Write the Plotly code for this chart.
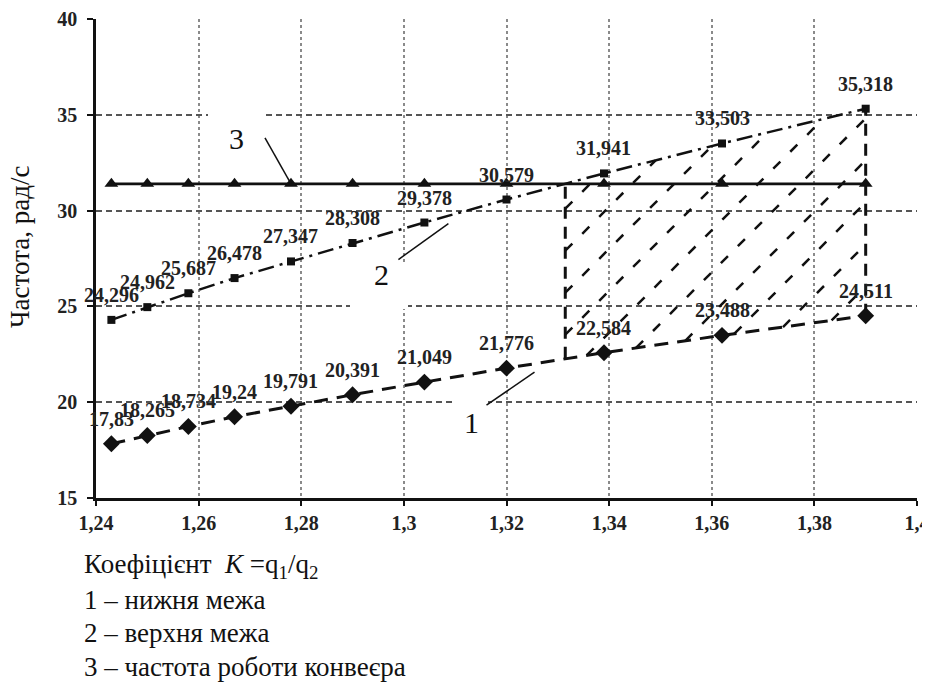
import numpy as np
import plotly.graph_objects as go

# ---------------- data ----------------
K = [1.243, 1.250, 1.258, 1.267, 1.278, 1.290, 1.304, 1.320, 1.339, 1.362, 1.390]
lower = [17.83, 18.265, 18.734, 19.24, 19.791, 20.391, 21.049, 21.776, 22.584, 23.488, 24.511]
upper = [24.296, 24.962, 25.687, 26.478, 27.347, 28.308, 29.378, 30.579, 31.941, 33.503, 35.318]
conveyor = [31.4, 31.4, 31.4, 31.4, 31.4, 31.4, 31.4, 31.4, 31.4, 31.4, 31.4]

x_tickvals = [1.24, 1.26, 1.28, 1.30, 1.32, 1.34, 1.36, 1.38, 1.40]
x_ticktext = ["1,24", "1,26", "1,28", "1,3", "1,32", "1,34", "1,36", "1,38", "1,4"]
y_tickvals = [15, 20, 25, 30, 35, 40]
y_ticktext = ["15", "20", "25", "30", "35", "40"]

y_title = "Частота, рад/с"
caption_lines = [
    "Коефіцієнт&nbsp; <i>K</i> =q<sub>1</sub>/q<sub>2</sub>",
    "1 – нижня межа",
    "2 – верхня межа",
    "3 – частота роботи конвеєра",
]

# ---------------- geometry ----------------
W, H = 930, 684
OFF = 8  # page body margin
# target plot box in screenshot pixels
PL, PR, PT, PB = 96, 917, 19, 498
PW, PH = PR - PL, PB - PT
XR = [1.24, 1.40]
YR = [15, 40]
px_x = PW / (XR[1] - XR[0])
px_y = PH / (YR[1] - YR[0])

FONT = "'Liberation Serif', 'Times New Roman', Times, 'DejaVu Serif', serif"
INK = "#111111"

Ka = np.array(K)
La = np.array(lower)
Ua = np.array(upper)
Ca = np.array(conveyor)

# hatched zone: between lower and upper bound where upper bound exceeds conveyor frequency
x_left = float(np.interp(Ca[0], Ua, Ka))
x_right = Ka[-1]

# hatch lines at 45 deg in screen space
xs = np.linspace(x_left, x_right, 4000)
Xp = (xs - XR[0]) * px_x
Lp = (np.interp(xs, Ka, La) - YR[0]) * px_y
Up = (np.interp(xs, Ka, Ua) - YR[0]) * px_y
spacing = 42.0
phase = 264.0
c_lo = (Xp - Up).min()
c_hi = (Xp - Lp).max()
k0 = int(np.floor((c_lo - phase) / spacing))
k1 = int(np.ceil((c_hi - phase) / spacing))
hx, hy = [], []
for k in range(k0, k1 + 1):
    c = phase + k * spacing
    Yl = Xp - c
    m = (Yl >= Lp) & (Yl <= Up)
    if m.sum() < 2:
        continue
    idx = np.where(m)[0]
    i0, i1 = idx[0], idx[-1]
    for i in (i0, i1):
        hx.append(xs[i])
        hy.append(YR[0] + Yl[i] / px_y)
    hx.append(None)
    hy.append(None)

fig = go.Figure()

fig.add_trace(go.Scatter(x=hx, y=hy, mode="lines",
                         line=dict(color=INK, width=2.5, dash="10px,14px"),
                         hoverinfo="skip"))

# zone boundaries (vertical dashed)
fig.add_trace(go.Scatter(x=[x_left, x_left], y=[float(np.interp(x_left, Ka, La)), Ca[0]],
                         mode="lines", line=dict(color=INK, width=3, dash="12px,8px")))
fig.add_trace(go.Scatter(x=[x_right, x_right], y=[La[-1], Ua[-1]],
                         mode="lines", line=dict(color=INK, width=3, dash="12px,8px")))

# 3 - conveyor frequency
fig.add_trace(go.Scatter(x=K, y=conveyor, mode="lines+markers",
                         line=dict(color=INK, width=2.8),
                         marker=dict(symbol="triangle-up", size=12, color=INK)))
# 2 - upper bound
fig.add_trace(go.Scatter(x=K, y=upper, mode="lines+markers",
                         line=dict(color=INK, width=2.5, dash="16px,6px,3px,6px"),
                         marker=dict(symbol="square", size=8, color=INK)))
# 1 - lower bound
fig.add_trace(go.Scatter(x=K, y=lower, mode="lines+markers",
                         line=dict(color=INK, width=3, dash="14px,9px"),
                         marker=dict(symbol="diamond", size=13, color=INK)))

annotations = []
def fmt(v):
    return ("%g" % v).replace(".", ",")

for series in (upper, lower):
    for k, v in zip(K, series):
        annotations.append(dict(x=k, y=v, text=fmt(v), showarrow=False, yshift=25,
                                font=dict(family=FONT, size=20, color="#222", weight="bold")))

# curve numbers with leader lines
num_font = dict(family=FONT, size=30, color=INK)
annotations += [
    dict(x=K[4], y=conveyor[4], text="3", showarrow=False, xshift=-54, yshift=45, font=num_font),
    dict(x=K[6], y=upper[6], text="2", showarrow=False, xshift=-43, yshift=-52, font=num_font),
    dict(x=K[7], y=lower[7], text="1", showarrow=False, xshift=-35, yshift=-54, font=num_font),
]
shapes = []
for (xa, ya, x0, y0, x1, y1) in [
    (K[4], conveyor[4], -26, 46, 0, 0),
    (K[6], upper[6], -26, -37, 24, -1),
    (K[7], lower[7], -20, -37, 28, -4),
]:
    shapes.append(dict(type="line", xref="x", yref="y", xsizemode="pixel", ysizemode="pixel",
                       xanchor=xa, yanchor=ya, x0=x0, y0=y0, x1=x1, y1=y1,
                       line=dict(color=INK, width=1.5), layer="above"))

# white label boxes that interrupt the grid (between grid and traces)
def pxbox(x0p, x1p, y0p, y1p):
    return dict(type="rect", xref="x", yref="y", layer="between",
                x0=XR[0] + (x0p - PL) / px_x, x1=XR[0] + (x1p - PL) / px_x,
                y0=YR[0] + (PB - y1p) / px_y, y1=YR[0] + (PB - y0p) / px_y,
                fillcolor="white", line=dict(width=0))
shapes += [pxbox(208, 264, 105, 125), pxbox(350, 408, 262, 309), pxbox(452, 488, 395, 440)]

def paper_x(xp):
    return (xp - PL) / PW
def paper_y(yp):
    return (PB - yp) / PH

# y axis title
annotations.append(dict(xref="paper", yref="paper", x=paper_x(20), y=paper_y(247),
                        xanchor="center", yanchor="middle",
                        text=y_title, textangle=-90, showarrow=False,
                        font=dict(family=FONT, size=27, color=INK)))
# caption lines
for i, t in enumerate(caption_lines):
    yc = 566 + i * 33.5
    annotations.append(dict(xref="paper", yref="paper", x=paper_x(82), y=paper_y(yc),
                            xanchor="left", yanchor="middle", text=t, showarrow=False, align="left",
                            font=dict(family=FONT, size=27, color=INK)))

fig.update_layout(
    width=W, height=H,
    margin=dict(l=PL - OFF, r=W + OFF - PR, t=PT - OFF, b=H + OFF - PB, autoexpand=False),
    paper_bgcolor="white", plot_bgcolor="white",
    showlegend=False,
    font=dict(family=FONT, color=INK),
    annotations=annotations,
    shapes=shapes,
    xaxis=dict(range=XR, tickvals=x_tickvals, ticktext=x_ticktext, automargin=False,
               showline=True, linecolor=INK, linewidth=2.5, ticks="outside", ticklen=5,
               tickwidth=2, tickcolor=INK, showgrid=True, gridcolor="#8a8a8a", gridwidth=1.5,
               griddash="dot", zeroline=False, ticklabelstandoff=0,
               tickfont=dict(family=FONT, size=20, color="#222", weight="bold")),
    yaxis=dict(range=YR, tickvals=y_tickvals, ticktext=y_ticktext, automargin=False,
               showline=True, linecolor=INK, linewidth=2.5, ticks="outside", ticklen=6,
               tickwidth=2, tickcolor=INK, showgrid=True, gridcolor="#555555", gridwidth=1.5,
               griddash="6px,4px", zeroline=False, ticklabelstandoff=6,
               tickfont=dict(family=FONT, size=20, color="#222", weight="bold")),
)

fig.write_html("out.html")
